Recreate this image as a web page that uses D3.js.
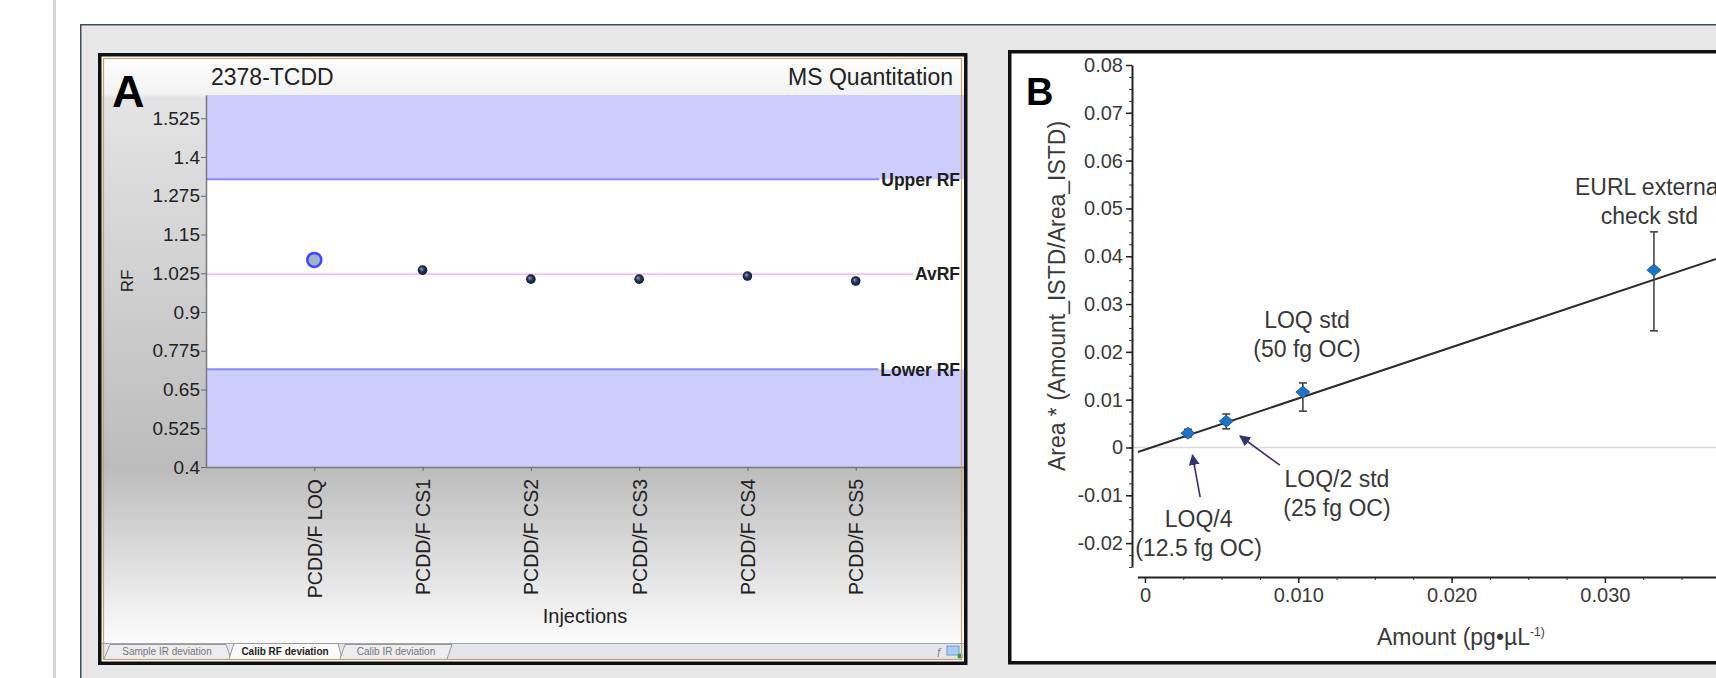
<!DOCTYPE html>
<html>
<head>
<meta charset="utf-8">
<script src="https://cdn.jsdelivr.net/npm/d3@7"></script>
<style>
  body { margin: 0; background: #fff; }
  svg { display: block; font-family: Arial, "Liberation Sans", sans-serif; }
</style>
</head>
<body>
<svg id="chart" width="1716" height="678"></svg>
<script>
// ---- panel A : calibration RF deviation ----
const injections = ["PCDD/F LOQ", "PCDD/F CS1", "PCDD/F CS2", "PCDD/F CS3", "PCDD/F CS4", "PCDD/F CS5"];
const rfValues = [1.068, 1.035, 1.006, 1.006, 1.016, 1.0];
const rfTicks = [0.4, 0.525, 0.65, 0.775, 0.9, 1.025, 1.15, 1.275, 1.4, 1.525];
const rfLimits = [
  { name: "Upper RF", value: 1.328 },
  { name: "AvRF", value: 1.022 },
  { name: "Lower RF", value: 0.715 },
];
const tabs = ["Sample IR deviation", "Calib RF deviation", "Calib IR deviation"];

// ---- panel B : calibration curve ----
const amounts = [0.0028, 0.0053, 0.0103, 0.0332];
const responses = [0.0030, 0.0055, 0.0116, 0.0371];
const errLow = [0.0022, 0.0039, 0.0076, 0.0244];
const errHigh = [0.0038, 0.0070, 0.0135, 0.0451];
const fitLine = [[-0.00046, -0.00095], [0.0375, 0.0397]];
const amountTicks = [0, 0.01, 0.02, 0.03, 0.04];
const amountTickLabels = ["0", "0.010", "0.020", "0.030", "0.040"];
const responseTicks = [-0.02, -0.01, 0, 0.01, 0.02, 0.03, 0.04, 0.05, 0.06, 0.07, 0.08];
const responseTickLabels = ["-0.02", "-0.01", "0", "0.01", "0.02", "0.03", "0.04", "0.05", "0.06", "0.07", "0.08"];
const annotations = [
  { lines: ["EURL external", "check std"], x: 0.0329, y: 0.0528 },
  { lines: ["LOQ std", "(50 fg OC)"], x: 0.01057, y: 0.0250 },
  { lines: ["LOQ/2 std", "(25 fg OC)"], x: 0.01252, y: -0.0083 },
  { lines: ["LOQ/4", "(12.5 fg OC)"], x: 0.0035, y: -0.0167 },
];
const arrows = [
  { from: [0.0036, -0.0104], to: [0.0031, -0.0016] },
  { from: [0.0088, -0.0037], to: [0.0062, 0.0024] },
];

const svg = d3.select("#chart");
const defs = svg.append("defs");

// page edge + grey sheet behind both panels
svg.append("rect").attr("x", 53).attr("y", 0).attr("width", 3).attr("height", 678).attr("fill", "#d6d6d6");
svg.append("rect").attr("x", 80).attr("y", 24).attr("width", 1640).attr("height", 660).attr("fill", "#e8e8e8");
svg.append("path")
  .attr("d", "M80.75,678V24.75H1716")
  .attr("fill", "none")
  .attr("stroke", "#3e4d5c")
  .attr("stroke-width", 1.5);

// ================= PANEL A =================
const gA = svg.append("g");

const bgA = defs.append("linearGradient")
  .attr("id", "bgA")
  .attr("gradientUnits", "userSpaceOnUse")
  .attr("x1", 0).attr("y1", 58).attr("x2", 0).attr("y2", 660);
[[0, "#fdfdfd"], [0.06, "#f3f3f3"], [0.066, "#e4e4e4"], [0.68, "#bcbcbc"], [0.965, "#fbfbfb"], [1, "#fbfbfb"]]
  .forEach(([o, c]) => bgA.append("stop").attr("offset", o).attr("stop-color", c));

gA.append("rect")
  .attr("x", 101).attr("y", 56).attr("width", 864).attr("height", 606)
  .attr("fill", "url(#bgA)");

const plotA = { left: 206, right: 964, top: 95, bottom: 467 };
const xA = d3.scalePoint().domain(injections).range([plotA.left, plotA.right]).padding(1);
const yA = d3.scaleLinear().domain([0.4, 1.6]).range([plotA.bottom, plotA.top]);

const upper = rfLimits[0].value, lower = rfLimits[2].value;

gA.append("rect")
  .attr("x", plotA.left).attr("y", yA(1.6))
  .attr("width", plotA.right - plotA.left).attr("height", yA(0.4) - yA(1.6))
  .attr("fill", "#ffffff");
gA.append("rect")
  .attr("x", plotA.left).attr("y", yA(1.6))
  .attr("width", plotA.right - plotA.left).attr("height", yA(upper) - yA(1.6))
  .attr("fill", "#ccccfd");
gA.append("rect")
  .attr("x", plotA.left).attr("y", yA(lower))
  .attr("width", plotA.right - plotA.left).attr("height", yA(0.4) - yA(lower))
  .attr("fill", "#ccccfd");

// limit lines with their labels at the right end
rfLimits.forEach((d) => {
  const label = gA.append("text")
    .attr("x", plotA.right - 4)
    .attr("y", yA(d.value))
    .attr("dy", "0.36em")
    .attr("text-anchor", "end")
    .attr("font-size", 17.5)
    .attr("font-weight", "bold")
    .attr("fill", "#1e1e1e")
    .text(d.name);
  const len = label.node().getComputedTextLength();
  gA.insert("line", "text")
    .attr("x1", plotA.left)
    .attr("x2", plotA.right - 6 - len)
    .attr("y1", yA(d.value))
    .attr("y2", yA(d.value))
    .attr("stroke", d.name === "AvRF" ? "#f3a6f3" : "#8a8af8")
    .attr("stroke-width", d.name === "AvRF" ? 1.2 : 2);
});

// axes
gA.append("g")
  .attr("transform", `translate(${plotA.left},0)`)
  .call(d3.axisLeft(yA).tickValues(rfTicks).tickSize(5).tickSizeOuter(0).tickPadding(1).tickFormat((d) => String(d)))
  .attr("font-size", 19)
  .attr("font-family", null)
  .call((g) => g.select(".domain").attr("stroke", "#7a7a7a").attr("stroke-width", 1.5))
  .call((g) => g.selectAll(".tick line").attr("stroke", "#666"))
  .call((g) => g.selectAll(".tick text").attr("fill", "#222"));

gA.append("g")
  .attr("transform", `translate(0,${plotA.bottom})`)
  .call(d3.axisBottom(xA).tickSize(4).tickSizeOuter(0))
  .attr("font-size", 19.5)
  .attr("font-family", null)
  .call((g) => g.select(".domain").attr("stroke", "#7a7a7a").attr("stroke-width", 1.5))
  .call((g) => g.selectAll(".tick line").attr("stroke", "#666"))
  .call((g) =>
    g.selectAll(".tick text")
      .attr("fill", "#222")
      .attr("transform", "rotate(-90)")
      .attr("x", -12)
      .attr("y", 0)
      .attr("dy", "0.36em")
      .style("text-anchor", "end")
  );

// markers
const sphere = defs.append("radialGradient").attr("id", "sphere").attr("fx", "35%").attr("fy", "35%");
sphere.append("stop").attr("offset", 0).attr("stop-color", "#8c9cbc");
sphere.append("stop").attr("offset", 0.55).attr("stop-color", "#22325a");
sphere.append("stop").attr("offset", 1).attr("stop-color", "#0f1832");

gA.selectAll("circle.rf")
  .data(rfValues)
  .join("circle")
  .attr("class", "rf")
  .attr("cx", (d, i) => xA(injections[i]))
  .attr("cy", (d) => yA(d))
  .attr("r", (d, i) => (i === 0 ? 7 : 4.8))
  .attr("fill", (d, i) => (i === 0 ? "#9fb2c8" : "url(#sphere)"))
  .attr("stroke", (d, i) => (i === 0 ? "#3a46ff" : "none"))
  .attr("stroke-width", 2.5);

// texts
gA.append("text").attr("x", 112).attr("y", 107).attr("font-size", 45).attr("font-weight", "bold").text("A");
gA.append("text").attr("x", 211).attr("y", 85).attr("font-size", 23).attr("fill", "#222").text("2378-TCDD");
gA.append("text").attr("x", 953).attr("y", 85).attr("font-size", 23).attr("fill", "#222")
  .attr("text-anchor", "end").text("MS Quantitation");
gA.append("text")
  .attr("transform", "translate(133,281) rotate(-90)")
  .attr("text-anchor", "middle")
  .attr("font-size", 17)
  .attr("fill", "#222")
  .text("RF");
gA.append("text")
  .attr("x", (plotA.left + plotA.right) / 2)
  .attr("y", 623)
  .attr("text-anchor", "middle")
  .attr("font-size", 20)
  .attr("fill", "#222")
  .text("Injections");

// tab strip
gA.append("rect").attr("x", 102).attr("y", 643).attr("width", 862).attr("height", 16).attr("fill", "#e5e5ed");
gA.append("line").attr("x1", 102).attr("x2", 964).attr("y1", 643.5).attr("y2", 643.5).attr("stroke", "#a4a4a4");
const tabShapes = [
  { d: "M104,659L110,644.5H226L231,659", cx: 167, fill: "#ececf1" },
  { d: "M229,659L234,643.5H338L342,659", cx: 285, fill: "#fbfbfb" },
  { d: "M340,659L345,644.5H452L447,659", cx: 396, fill: "#ececf1" },
];
tabs.forEach((t, i) => {
  gA.append("path")
    .attr("d", tabShapes[i].d)
    .attr("fill", tabShapes[i].fill)
    .attr("stroke", "#9a9a9a");
  gA.append("text")
    .attr("x", tabShapes[i].cx)
    .attr("y", 655)
    .attr("text-anchor", "middle")
    .attr("font-size", 10)
    .attr("font-weight", i === 1 ? "bold" : "normal")
    .attr("fill", i === 1 ? "#222" : "#777")
    .text(t);
});
// small toolbar icons
gA.append("text").attr("x", 937).attr("y", 657).attr("font-size", 12).attr("font-style", "italic")
  .attr("fill", "#888").text("f");
gA.append("rect").attr("x", 947).attr("y", 646).attr("width", 12).attr("height", 9)
  .attr("fill", "#a9cdf0").attr("stroke", "#6a9ccc");
gA.append("circle").attr("cx", 960).attr("cy", 656).attr("r", 2.5).attr("fill", "#2a9a3a");

// frame
gA.append("rect")
  .attr("x", 103.5).attr("y", 58.5).attr("width", 858).attr("height", 601)
  .attr("fill", "none").attr("stroke", "#c9a46a").attr("stroke-width", 1.2);
gA.append("rect")
  .attr("x", 99.75).attr("y", 54.75).attr("width", 866).attr("height", 608.5)
  .attr("fill", "none").attr("stroke", "#111").attr("stroke-width", 3.5);

// ================= PANEL B =================
const gB = svg.append("g");

gB.append("rect")
  .attr("x", 1009.75).attr("y", 51.75).attr("width", 760).attr("height", 611)
  .attr("fill", "#fff").attr("stroke", "#111").attr("stroke-width", 3.5);

const xB = d3.scaleLinear().domain([-0.0005, 0.04]).range([1137.3, 1758.2]);
const yB = d3.scaleLinear().domain([-0.025, 0.08]).range([567, 65]);
const axisXY = 577, axisYX = 1132;
const textGrey = "#3a3a3a";

// zero reference line
gB.append("line")
  .attr("x1", axisYX).attr("x2", 1716)
  .attr("y1", yB(0)).attr("y2", yB(0))
  .attr("stroke", "#dadada").attr("stroke-width", 1.5);

// y axis (major + minor ticks)
gB.append("g")
  .attr("transform", `translate(${axisYX},0)`)
  .call(d3.axisLeft(yB).tickValues(d3.range(-0.025, 0.0801, 0.0025)).tickSize(3).tickSizeOuter(0).tickFormat(""))
  .call((g) => g.select(".domain").remove())
  .call((g) => g.selectAll("line").attr("stroke", "#333"));
gB.append("g")
  .attr("transform", `translate(${axisYX},0)`)
  .call(d3.axisLeft(yB).tickValues(responseTicks).tickSize(6).tickSizeOuter(0).tickPadding(3)
    .tickFormat((d, i) => responseTickLabels[i]))
  .attr("font-size", 20)
  .attr("font-family", null)
  .call((g) => g.select(".domain").attr("stroke", "#222").attr("stroke-width", 2))
  .call((g) => g.selectAll(".tick line").attr("stroke", "#222").attr("stroke-width", 1.5))
  .call((g) => g.selectAll(".tick text").attr("fill", textGrey));

// x axis (major + minor ticks)
gB.append("g")
  .attr("transform", `translate(0,${axisXY})`)
  .call(d3.axisBottom(xB).tickValues(d3.range(0, 0.0401, 0.0025)).tickSize(3).tickSizeOuter(0).tickFormat(""))
  .call((g) => g.select(".domain").remove())
  .call((g) => g.selectAll("line").attr("stroke", "#333"));
gB.append("g")
  .attr("transform", `translate(0,${axisXY})`)
  .call(d3.axisBottom(xB).tickValues(amountTicks).tickSize(6).tickSizeOuter(0).tickPadding(5)
    .tickFormat((d, i) => amountTickLabels[i]))
  .attr("font-size", 20)
  .attr("font-family", null)
  .call((g) => g.select(".domain").attr("stroke", "#222").attr("stroke-width", 2))
  .call((g) => g.selectAll(".tick line").attr("stroke", "#222").attr("stroke-width", 1.5))
  .call((g) => g.selectAll(".tick text").attr("fill", textGrey));

// regression line
gB.append("path")
  .datum(fitLine)
  .attr("d", d3.line().x((d) => xB(d[0])).y((d) => yB(d[1])))
  .attr("fill", "none")
  .attr("stroke", "#2b2b2b")
  .attr("stroke-width", 2);

// error bars
const bars = gB.selectAll("g.err")
  .data(amounts)
  .join("g")
  .attr("class", "err")
  .attr("stroke", "#444")
  .attr("stroke-width", 1.6);
bars.append("line")
  .attr("x1", (d) => xB(d)).attr("x2", (d) => xB(d))
  .attr("y1", (d, i) => yB(errLow[i])).attr("y2", (d, i) => yB(errHigh[i]));
bars.append("line")
  .attr("x1", (d) => xB(d) - 4).attr("x2", (d) => xB(d) + 4)
  .attr("y1", (d, i) => yB(errLow[i])).attr("y2", (d, i) => yB(errLow[i]));
bars.append("line")
  .attr("x1", (d) => xB(d) - 4).attr("x2", (d) => xB(d) + 4)
  .attr("y1", (d, i) => yB(errHigh[i])).attr("y2", (d, i) => yB(errHigh[i]));

// diamond markers
gB.selectAll("path.pt")
  .data(amounts)
  .join("path")
  .attr("class", "pt")
  .attr("transform", (d, i) => `translate(${xB(d)},${yB(responses[i])})`)
  .attr("d", "M0,-6L7,0L0,6L-7,0Z")
  .attr("fill", "#1c74c8")
  .attr("stroke", "#14508c")
  .attr("stroke-width", 0.8);

// annotations
annotations.forEach((a) => {
  const t = gB.append("text")
    .attr("x", xB(a.x))
    .attr("y", yB(a.y))
    .attr("text-anchor", "middle")
    .attr("font-size", 23)
    .attr("fill", "#383838");
  a.lines.forEach((l, i) => {
    t.append("tspan").attr("x", xB(a.x)).attr("dy", i === 0 ? 0 : 29).text(l);
  });
});

defs.append("marker")
  .attr("id", "arrowhead")
  .attr("viewBox", "0 0 10 10")
  .attr("refX", 9).attr("refY", 5)
  .attr("markerWidth", 11).attr("markerHeight", 11)
  .attr("markerUnits", "userSpaceOnUse")
  .attr("orient", "auto")
  .append("path")
  .attr("d", "M0,0L10,5L0,10Z")
  .attr("fill", "#34346e");

gB.selectAll("line.arrow")
  .data(arrows)
  .join("line")
  .attr("class", "arrow")
  .attr("x1", (d) => xB(d.from[0])).attr("y1", (d) => yB(d.from[1]))
  .attr("x2", (d) => xB(d.to[0])).attr("y2", (d) => yB(d.to[1]))
  .attr("stroke", "#34346e")
  .attr("stroke-width", 1.6)
  .attr("marker-end", "url(#arrowhead)");

// axis titles
gB.append("text")
  .attr("transform", "translate(1065,296) rotate(-90)")
  .attr("text-anchor", "middle")
  .attr("font-size", 23)
  .attr("fill", textGrey)
  .text("Area * (Amount_ISTD/Area_ISTD)");
const xTitle = gB.append("text")
  .attr("x", 1377)
  .attr("y", 645)
  .attr("font-size", 23)
  .attr("fill", textGrey)
  .text("Amount (pg•µL");
xTitle.append("tspan").attr("font-size", 12).attr("dy", -9).text("-1)");

gB.append("text").attr("x", 1026).attr("y", 105).attr("font-size", 38).attr("font-weight", "bold").text("B");
</script>
</body>
</html>
